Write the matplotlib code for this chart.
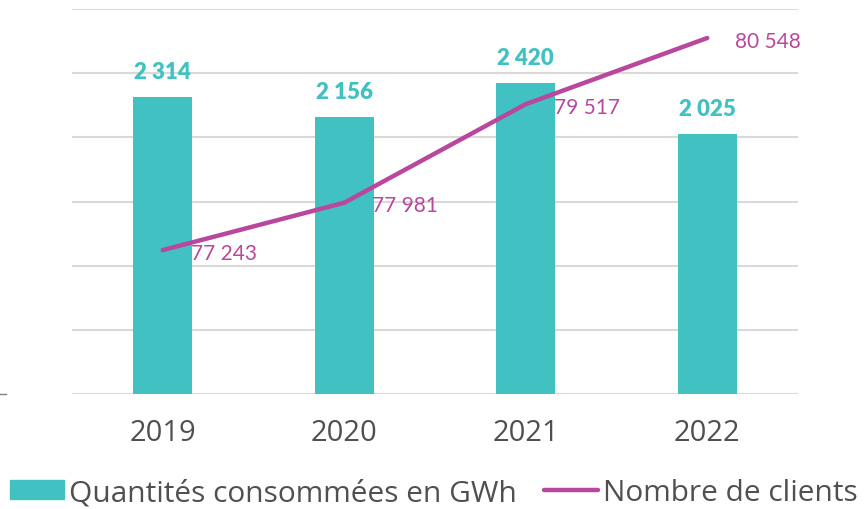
import matplotlib.pyplot as plt
from matplotlib.lines import Line2D
from matplotlib.patches import Patch

years = ["2019", "2020", "2021", "2022"]
conso_gwh = [2314, 2156, 2420, 2025]
clients = [77243, 77981, 79517, 80548]

teal = "#41C1C1"
magenta = "#B8479D"
grey_txt = "#505050"


def fr(n):
    return f"{n:,}".replace(",", " ")


fig = plt.figure(figsize=(8.68, 5.1), dpi=100)
ax = fig.add_axes([72 / 868, 1 - 395 / 510, 726 / 868, 385 / 510])
x = range(len(years))

ax.bar(x, conso_gwh, width=0.325, color=teal, zorder=2)
ax.set_ylim(0, 3000)
ax.set_xlim(-0.5, 3.5)
ax.set_yticks(range(0, 3001, 500))
ax.yaxis.grid(True, color="#D9D9D9", linewidth=1.5, zorder=0)
ax.set_axisbelow(True)
for s in ax.spines.values():
    s.set_visible(False)
ax.set_xticks(list(x))
ax.set_xticklabels(years, fontsize=21, color=grey_txt, family="Open Sans")

for i, v in enumerate(conso_gwh):
    ax.annotate(fr(v), (i, v), xytext=(0, 11), textcoords="offset points",
                ha="center", va="bottom", fontsize=16, fontweight="heavy",
                color=teal, family="Lato")

ax2 = ax.twinx()
ax2.plot(list(x), clients, color=magenta, linewidth=3.2, solid_capstyle="round", zorder=3)
ax2.set_ylim(75000, 81000)
ax2.axis("off")
for i, v in enumerate(clients):
    ax2.annotate(fr(v), (i, v), xytext=(20, -2), textcoords="offset points",
                 ha="left", va="center", fontsize=15, color=magenta, family="Lato")

# twinx turns the left ticks back on
ax.tick_params(axis="y", left=False, right=False, labelleft=False)
ax.tick_params(axis="x", bottom=False, pad=14)

# small tick mark at far left
fig.add_artist(Line2D([0, 6 / 868], [1 - 395 / 510] * 2, color="#808080", linewidth=1))

handles = [Patch(color=teal), Line2D([0], [0], color=magenta, linewidth=3.2, solid_capstyle="round")]
fig.legend(handles, ["Quantités consommées en GWh", "Nombre de clients"],
           loc="center", bbox_to_anchor=(0.5, 1 - 494 / 510), ncol=2, frameon=False,
           prop={"family": "Open Sans", "size": 21.5}, labelcolor=grey_txt,
           handlelength=1.8, handletextpad=0.17, columnspacing=0.9, handleheight=0.6)

fig.savefig("out.png", dpi=100)
